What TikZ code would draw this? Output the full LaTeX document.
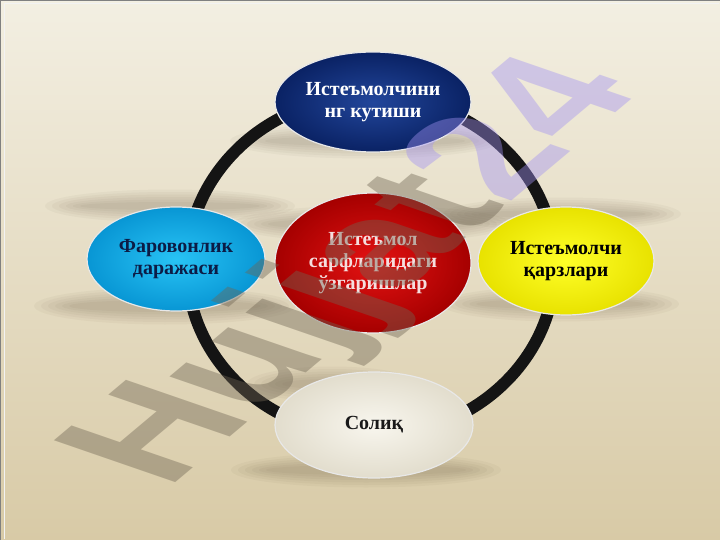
\documentclass[tikz,border=0pt]{standalone}
\usepackage{fontspec}
\setmainfont{Liberation Serif}
\newfontfamily\markfont{Liberation Sans}
\usetikzlibrary{shapes.geometric,positioning}
\definecolor{paperT}{RGB}{243,239,226}
\definecolor{paperM}{RGB}{236,229,211}
\definecolor{paperB}{RGB}{216,202,166}
\definecolor{blueI}{RGB}{34,70,155}
\definecolor{blueO}{RGB}{10,34,100}
\definecolor{cyanI}{RGB}{40,195,245}
\definecolor{cyanO}{RGB}{8,150,212}
\definecolor{redI}{RGB}{228,18,18}
\definecolor{redO}{RGB}{165,0,0}
\definecolor{yelI}{RGB}{255,255,40}
\definecolor{yelO}{RGB}{232,226,0}
\definecolor{creamI}{RGB}{248,246,238}
\definecolor{creamO}{RGB}{226,221,205}
\definecolor{navyText}{RGB}{12,28,70}
\definecolor{pinkText}{RGB}{245,222,222}
\definecolor{markG}{RGB}{111,101,83}
\definecolor{markL}{RGB}{162,146,242}

\begin{document}
\begin{tikzpicture}
  [x=1pt, y=-1pt,
   bubble/.style={ellipse, inner sep=0pt, align=center, draw=white!82!gray, line width=1.2pt,
     font=\bfseries\fontsize{20}{22}\selectfont},
   haze/.style={fill=black!70!brown, opacity=0.035, draw=none}]
  \useasboundingbox (0,0) rectangle (720,540);
  \shade[top color=paperT, middle color=paperM, bottom color=paperB] (0,0) rectangle (720,540);
  \draw[black!50, line width=1pt] (0.5,539.5) -- (0.5,0.5) -- (719.5,0.5);
  \draw[white!90!gray, line width=1pt] (4,539) -- (4,4) -- (719,4);

  \foreach \cx/\cy/\rx/\ry in {365/141/100/5, 170/206/90/4, 372/224/104/6, 562/214/84/4,
                               165/306/96/6, 560/304/84/5, 332/384/50/5, 366/470/100/5}
    \foreach \k in {0,...,5}
      \fill[haze] (\cx,\cy) ellipse ({\rx+7*\k} and {\ry+2.5*\k});

  \coordinate (hub) at (371,266);
  \draw[line width=12pt, black!92] (hub) ellipse (184 and 170);

  \node[bubble, minimum width=196pt, minimum height=100pt, inner color=blueI, outer color=blueO,
        text=white] (hope) at (373,102) {Истеъмолчини\\нг кутиши};
  \node[bubble, minimum width=178pt, minimum height=104pt, inner color=cyanI, outer color=cyanO,
        text=navyText] (wealth) at (176,259) {Фаровонлик\\даражаси};
  \node[bubble, minimum width=176pt, minimum height=108pt, inner color=yelI, outer color=yelO,
        text=black] (debt) at (566,261) {Истеъмолчи\\қарзлари};
  \node[bubble, minimum width=196pt, minimum height=140pt, inner color=redI, outer color=redO,
        text=pinkText] (spend) at (373,263) {Истеъмол\\сарфларидаги\\ўзгаришлар};
  \node[bubble, minimum width=198pt, minimum height=106pt, inner color=creamI, outer color=creamO,
        text=black!90] (tax) at (374,425) {Солиқ};

  \node[rotate=40, xslant=-0.6, inner sep=0pt, text opacity=0.42,
        font=\markfont\bfseries\fontsize{160}{160}\selectfont] (mark) at (360,274)
        {\textcolor{markG}{Hujjat}\textcolor{markL}{24}};
\end{tikzpicture}
\end{document}
